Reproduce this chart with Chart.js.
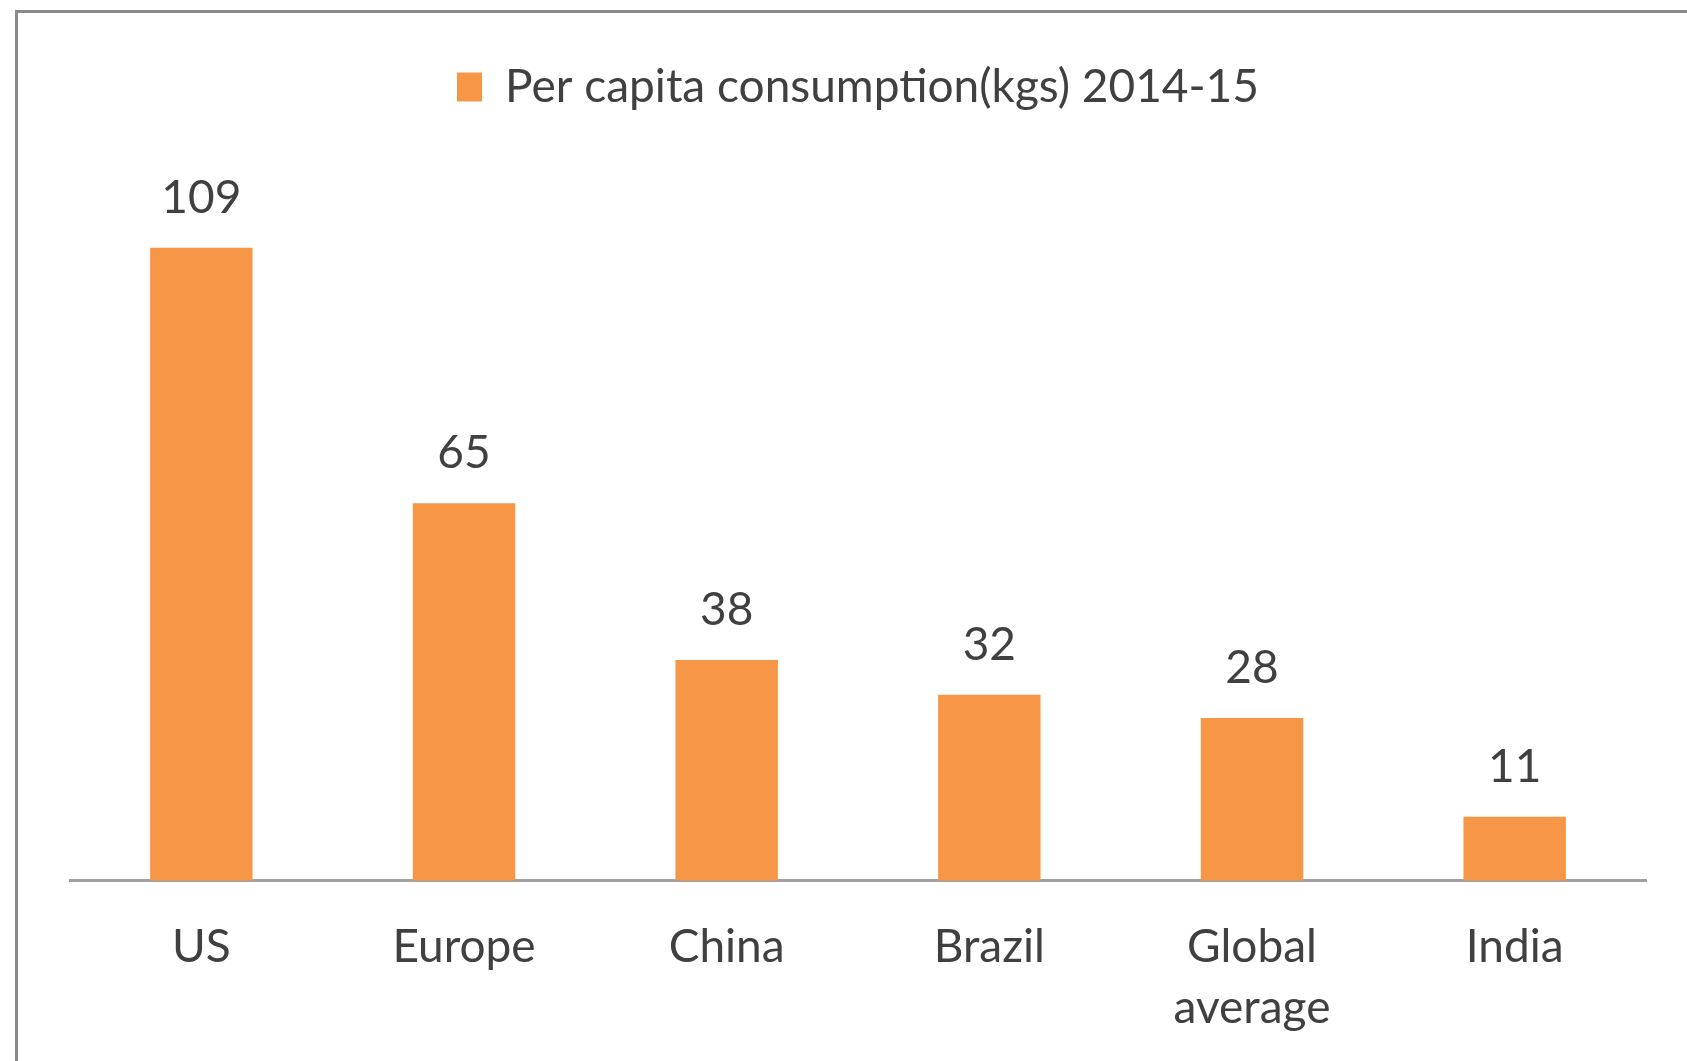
<!DOCTYPE html>
<html>
<head>
<meta charset="utf-8">
<script src="https://cdn.jsdelivr.net/npm/chart.js@4"></script>
<style>
  html, body { margin: 0; padding: 0; background: #fff; overflow: hidden; }
  #frame {
    position: absolute; left: 15px; top: 10px;
    width: 1720px; height: 1100px;
    border: 3px solid #8a8a8a; box-sizing: border-box;
  }
  #wrap { position: absolute; left: 0; top: 0; width: 1687px; height: 1061px; }
</style>
</head>
<body>
<div id="frame"></div>
<div id="wrap"><canvas id="chart"></canvas></div>
<script>
const categories = ['US', 'Europe', 'China', 'Brazil', ['Global', 'average'], 'India'];
const consumption = [109, 65, 38, 32, 28, 11];
const seriesName = 'Per capita consumption(kgs) 2014-15';

const textColor = '#404040';
const barColor = '#F79646';
const fontFamily = 'Lato, "Open Sans", sans-serif';

// value labels drawn above each bar
const valueLabels = {
  id: 'valueLabels',
  afterDatasetsDraw(chart) {
    const ctx = chart.ctx;
    const meta = chart.getDatasetMeta(0);
    ctx.save();
    ctx.font = '46px ' + fontFamily;
    ctx.fillStyle = textColor;
    ctx.textAlign = 'center';
    ctx.textBaseline = 'middle';
    meta.data.forEach((bar, i) => {
      ctx.fillText(String(chart.data.datasets[0].data[i]), bar.x, bar.y - 50);
    });
    ctx.restore();
  }
};

const ctx = document.getElementById('chart').getContext('2d');
new Chart(ctx, {
  type: 'bar',
  data: {
    labels: categories,
    datasets: [{
      label: seriesName,
      data: consumption,
      backgroundColor: barColor,
      barPercentage: 0.39,
      categoryPercentage: 1.0,
    }],
  },
  options: {
    responsive: true,
    maintainAspectRatio: false,
    animation: false,
    layout: { padding: { left: 70, right: 41, top: 34, bottom: -14 } },
    plugins: {
      legend: {
        position: 'top',
        labels: {
          color: textColor,
          font: { family: fontFamily, size: 46 },
          boxWidth: 25,
          boxHeight: 29,
          padding: 30,
        },
      },
      tooltip: { enabled: false },
    },
    scales: {
      x: {
        grid: { display: false, drawTicks: false },
        border: { display: true, color: '#a0a0a0', width: 3 },
        ticks: {
          color: textColor,
          font: { family: fontFamily, size: 46, lineHeight: 1.33 },
          padding: 36,
          maxRotation: 0,
        },
      },
      y: {
        display: false,
        beginAtZero: true,
        min: 0,
        max: 131,
      },
    },
  },
  plugins: [valueLabels],
});
</script>
</body>
</html>
